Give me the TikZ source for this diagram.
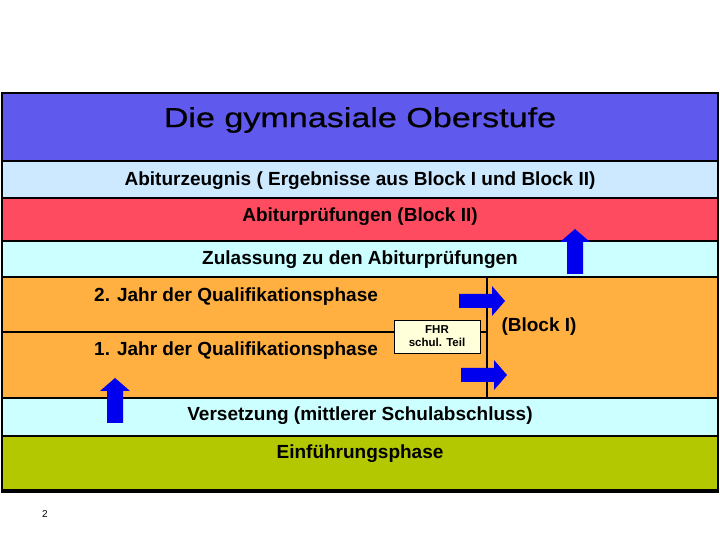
\documentclass[tikz,border=0pt]{standalone}
\usepackage{fontspec}
\setmainfont{Liberation Sans}
\newfontfamily\titlefont{Liberation Sans}[FakeStretch=1.24, FakeBold=0.6]
\definecolor{titleblue}{RGB}{96,89,238}
\definecolor{zeugnisblue}{RGB}{204,233,255}
\definecolor{pruefred}{RGB}{255,75,95}
\definecolor{lightcyan}{RGB}{204,255,255}
\definecolor{qualiorange}{RGB}{255,176,64}
\definecolor{einfgreen}{RGB}{179,200,0}
\definecolor{arrowblue}{RGB}{0,0,238}
\definecolor{fhryellow}{RGB}{255,255,217}
\tikzset{
  band/.style={draw, line width=2pt, minimum width=716pt, inner sep=0pt},
  bandtext/.style={font=\bfseries\fontsize{19}{22}\selectfont},
  cell/.style={draw, line width=2pt, inner sep=0pt, fill=qualiorange},
  rightarr/.pic={\fill[arrowblue] (0,-7) -- (33,-7) -- (33,-15) -- (46,0) -- (33,15) -- (33,7) -- (0,7) -- cycle;},
  uparr/.pic={\fill[arrowblue] (-8,0) -- (-8,32) -- (-15,32) -- (0,45) -- (15,32) -- (8,32) -- (8,0) -- cycle;}
}
\begin{document}
\begin{tikzpicture}[x=1pt, y=1pt]
\useasboundingbox (0,0) rectangle (720,540);
% bands from top to bottom
\node[band, fill=titleblue, minimum height=68pt] (title) at (360,413) {};
\node[font=\titlefont\fontsize{27.5}{30}\selectfont] (titletext) at (360,420) {Die gymnasiale Oberstufe};
\node[band, fill=zeugnisblue, minimum height=37pt] (zeugnis) at (360,360.5) {};
\node[bandtext] (zeugnistext) at (360,359) {Abiturzeugnis ( Ergebnisse aus Block I und Block II)};
\node[band, fill=pruefred, minimum height=43pt] (pruef) at (360,320.5) {};
\node[bandtext] (prueftext) at (360,323) {Abiturprüfungen (Block II)};
\node[band, fill=lightcyan, minimum height=36pt] (zulassung) at (360,281) {};
\node[bandtext] (zulassungtext) at (360,280) {Zulassung zu den Abiturprüfungen};
% Qualifikationsphase
\node[cell, minimum width=485pt, minimum height=55pt] (quali2) at (244.5,235.5) {};
\node[cell, minimum width=485pt, minimum height=66pt] (quali1) at (244.5,175) {};
\node[cell, line width=1.5pt, minimum width=231pt, minimum height=121pt] (blockI) at (602.5,202.5) {};
\node[bandtext, anchor=west, inner sep=0pt] (quali2text) at (94,243) {2. Jahr der Qualifikationsphase};
\node[bandtext, anchor=west, inner sep=0pt] (quali1text) at (94,189) {1. Jahr der Qualifikationsphase};
\node[bandtext] (blockItext) at (539,213) {(Block I)};
\node[draw, fill=fhryellow, minimum width=86pt, minimum height=33pt, inner sep=1pt, align=center,
  font=\bfseries\fontsize{11.5}{13}\selectfont] (fhr) at (437,203.5) {FHR\\schul. Teil};
% Einfuehrungsphase
\node[band, fill=lightcyan, minimum height=38pt] (versetzung) at (360,123) {};
\node[bandtext] (versetzungtext) at (360,124) {Versetzung (mittlerer Schulabschluss)};
\node[band, fill=einfgreen, minimum height=54pt] (einf) at (360,77) {};
\node[bandtext] (einftext) at (360,86) {Einführungsphase};
\draw[line width=4pt] (einf.south west) -- (einf.south east);
% arrows
\pic at (459,239) {rightarr};
\pic at (461,165) {rightarr};
\pic at (575,266) {uparr};
\pic at (115,117) {uparr};
\node[font=\fontsize{10}{12}\selectfont] (pagenum) at (45,26) {2};
\end{tikzpicture}
\end{document}
